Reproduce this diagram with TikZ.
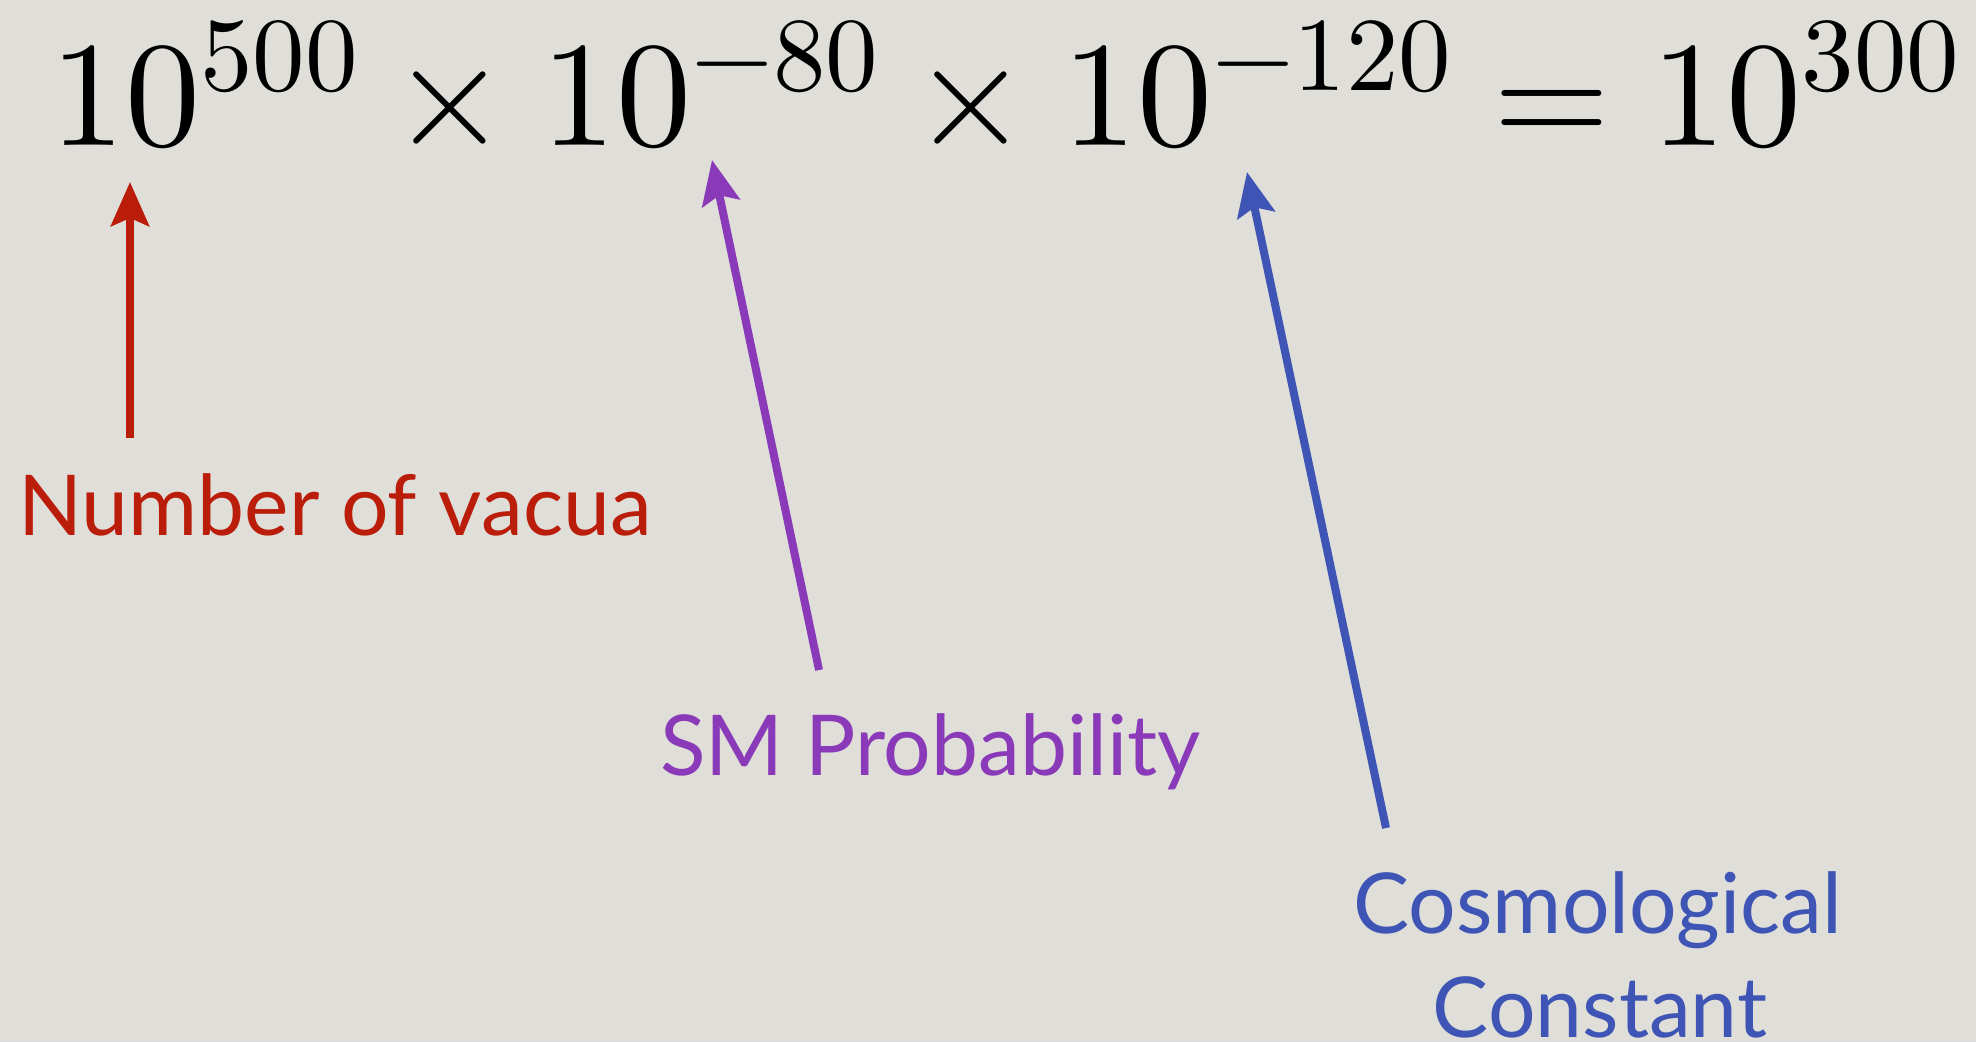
\documentclass[tikz,border=0pt]{standalone}
\usepackage{fontspec}
\usepackage{unicode-math}
\setmainfont{Lato}
\setmathfont{Latin Modern Math}
\usetikzlibrary{arrows.meta}
\definecolor{bg}{RGB}{224,222,217}
\definecolor{cred}{RGB}{186,30,10}
\definecolor{cpurple}{RGB}{138,58,185}
\definecolor{cblue}{RGB}{62,85,181}
\tikzset{
  lbl/.style={inner sep=0pt, font=\fontsize{84}{104}\selectfont},
  pointer/.style={line width=8pt, -{Stealth[length=44pt,width=38pt,inset=8pt]}},
}
\begin{document}
\begin{tikzpicture}[x=1pt,y=-1pt]
\fill[bg] (0,0) rectangle (1976,1042);
\useasboundingbox (0,0) rectangle (1976,1042);
\node[anchor=base west, inner sep=0pt] (eq) at (50,145)
  {\fontsize{150}{150}\selectfont $10^{500}\times10^{-80}\times10^{-120}=10^{300}$};
\node[lbl, text=cred, anchor=base west] (nv) at (18,535) {Number of vacua};
\node[lbl, text=cpurple, anchor=base west] (sm) at (660,775) {SM Probability};
\node[lbl, text=cblue, anchor=base] (cc1) at (1598,933) {Cosmological};
\node[lbl, text=cblue, anchor=base] (cc2) at (1600,1037) {Constant};
\coordinate (rt) at (130,438);
\coordinate (rh) at (130,182);
\coordinate (pt) at (819,670);
\coordinate (ph) at (712,160);
\coordinate (bt) at (1386,828);
\coordinate (bh) at (1247,172);
\draw[pointer, cred] (rt) -- (rh);
\draw[pointer, cpurple] (pt) -- (ph);
\draw[pointer, cblue] (bt) -- (bh);
\end{tikzpicture}
\end{document}
